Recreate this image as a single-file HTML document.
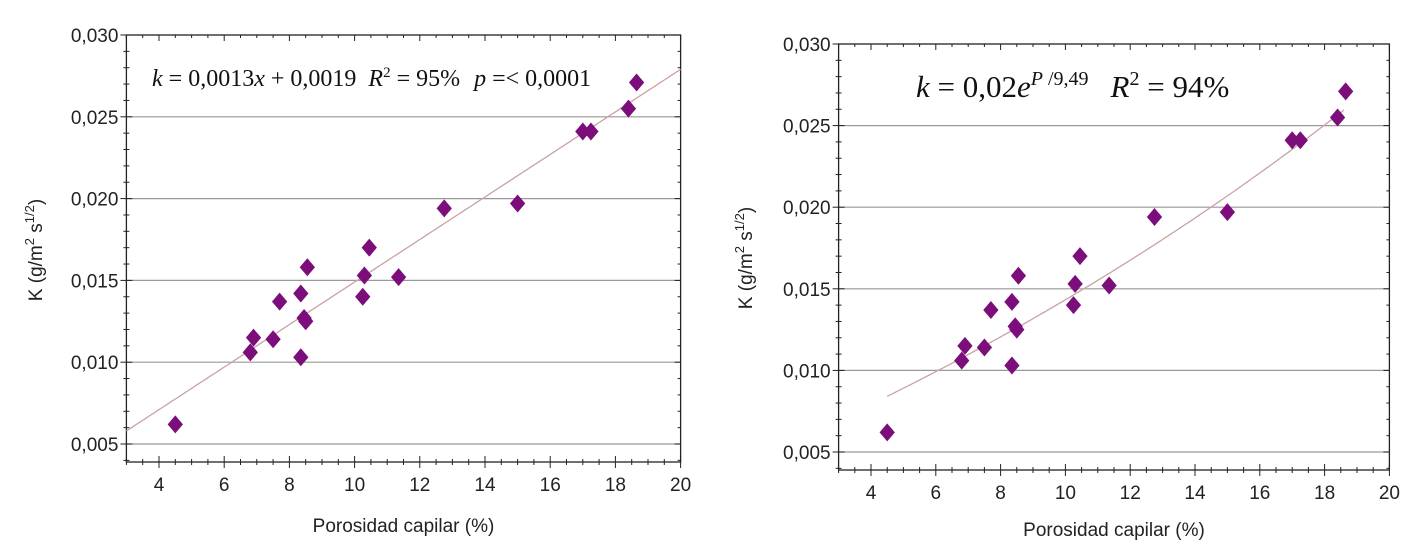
<!DOCTYPE html>
<html><head><meta charset="utf-8"><style>
html,body{margin:0;padding:0;background:#fff;}
svg{display:block;}
</style></head><body>
<svg id="chart" width="1421" height="556" xmlns="http://www.w3.org/2000/svg" font-family="Liberation Sans, sans-serif"></svg>
<script>
const xs = [4.5,6.8,6.9,7.5,7.7,8.35,8.35,8.45,8.5,8.55,10.25,10.3,10.45,11.35,12.75,15.0,17.0,17.25,18.4,18.65];
const ys = [0.0062,0.0106,0.0115,0.0114,0.0137,0.0142,0.0103,0.0127,0.0125,0.0158,0.0140,0.0153,0.0170,0.0152,0.0194,0.0197,0.0241,0.0241,0.0255,0.0271];
const xTicks = [4,6,8,10,12,14,16,18,20];
const yTicks = [0.005,0.010,0.015,0.020,0.025,0.030];
const yTickLabels = ["0,005","0,010","0,015","0,020","0,025","0,030"];
const linSlope = 0.0013, linIntercept = 0.0019;
const expA = 0.0263, expB = 0.0323, expC = -0.0220;

const svg = document.getElementById('chart');
const NS = 'http://www.w3.org/2000/svg';
function mk(tag, attrs, parent){const e=document.createElementNS(NS,tag);for(const k in attrs)e.setAttribute(k,attrs[k]);(parent||svg).appendChild(e);return e;}

function drawChart(cfg){
  const g = mk('g',{});
  
  
  const X = v => cfg.x0 + (v-3)*cfg.ux;
  const Y = v => cfg.y30 + (0.030-v)/0.005*cfg.uy;
  const L = X(3), R = X(20), T = Y(0.030), B = cfg.bottom;
  yTicks.forEach(t=>{ if(t<0.030){const l=mk('line',{x1:L,x2:R,y1:Y(t),y2:Y(t),stroke:'#999','stroke-width':1.2},g);
    
    }});
  const fr = mk('rect',{x:L,y:T,width:R-L,height:B-T,fill:'none',stroke:'#222','stroke-width':1.3},g);
  
  
  for(let v=3; v<=20.001; v+=0.5){
    const major = Math.abs(v-Math.round(v/2)*2)<1e-6;
    const len = major?6:3;
    mk('line',{x1:X(v),x2:X(v),y1:B-len,y2:B+len,stroke:'#222','stroke-width':1},g);
    mk('line',{x1:X(v),x2:X(v),y1:T,y2:T+len,stroke:'#222','stroke-width':1},g);
  }
  xTicks.forEach(t=>{const tx=mk('text',{x:X(t),y:B+29,'text-anchor':'middle','font-size':19,fill:'#222'},g);tx.textContent=t;
    
    });
  for(let i=0;i<=30;i++){
    const v = 0.030 - i*0.001; const yy=Y(v); if(yy>B) break;
    const major = i%5===0; const len = major?6:3;
    mk('line',{x1:L-len,x2:L+len,y1:yy,y2:yy,stroke:'#222','stroke-width':1},g);
    mk('line',{x1:R-len,x2:R,y1:yy,y2:yy,stroke:'#222','stroke-width':1},g);
  }
  yTicks.forEach((t,i)=>{const tx=mk('text',{x:L-8,y:Y(t)+7,'text-anchor':'end','font-size':19,fill:'#222'},g);tx.textContent=yTickLabels[i];
    
    });
  let d='';
  for(let v=cfg.fx0; v<=cfg.fx1+1e-9; v+=0.1){const f=cfg.fit(v);d+=(d?'L':'M')+X(v).toFixed(1)+','+Y(f).toFixed(1);}
  const p=mk('path',{d:d,fill:'none',stroke:'#c9a3a3','stroke-width':1.3},g);
  
  
  xs.forEach((x,i)=>{const cx=X(x),cy=Y(ys[i]),s=9;
    const pt=mk('polygon',{points:`${cx},${cy-s} ${cx+s*0.85},${cy} ${cx},${cy+s} ${cx-s*0.85},${cy}`,fill:'#7b0e7b'},g);
    
    });
  const xt=mk('text',{x:(L+R)/2,y:cfg.xtY,'text-anchor':'middle','font-size':19,fill:'#222'},g);
  xt.textContent='Porosidad capilar (%)';
  
  
  const yt=mk('text',{transform:`translate(${cfg.ytX},${cfg.ytY}) rotate(-90)`,'text-anchor':'middle','font-size':19,fill:'#222'},g);
  yt.innerHTML='K (g/m<tspan dy="-8" font-size="13">2</tspan><tspan dy="8"> s</tspan><tspan dy="-8" font-size="13">1/2</tspan><tspan dy="8">)</tspan>';
  
  
  const eq=mk('text',{x:cfg.eqX,y:cfg.eqY,'font-size':cfg.eqSize,'font-family':'Liberation Serif, serif',fill:'#111'},g);
  eq.innerHTML=cfg.eq;
  
  
}

drawChart({name:'linear-chart',x0:126.4,ux:32.6,y30:35,uy:81.8,bottom:462,fx0:3,fx1:20,
  fit:v=>linSlope*v+linIntercept,xtY:532,ytX:42,ytY:250,eqX:152,eqY:86,eqSize:24,
  eq:'<tspan font-style="italic">k</tspan> = 0,0013<tspan font-style="italic">x</tspan> + 0,0019<tspan dx="12" font-style="italic">R</tspan><tspan dy="-9" font-size="15">2</tspan><tspan dy="9"> = 95%</tspan><tspan dx="14" font-style="italic">p</tspan> =&lt; 0,0001'});
drawChart({name:'exponential-chart',x0:838.6,ux:32.4,y30:44,uy:81.6,bottom:470,fx0:4.5,fx1:18.65,
  fit:v=>expA*Math.exp(expB*v)+expC,xtY:536,ytX:752,ytY:258,eqX:916,eqY:97,eqSize:31,
  eq:'<tspan font-style="italic">k</tspan> = 0,02<tspan font-style="italic">e</tspan><tspan dy="-12" font-size="20"><tspan font-style="italic">P</tspan> /9,49</tspan><tspan dy="12" dx="22" font-style="italic">R</tspan><tspan dy="-12" font-size="20">2</tspan><tspan dy="12"> = 94%</tspan>'});
</script>
</body></html>
